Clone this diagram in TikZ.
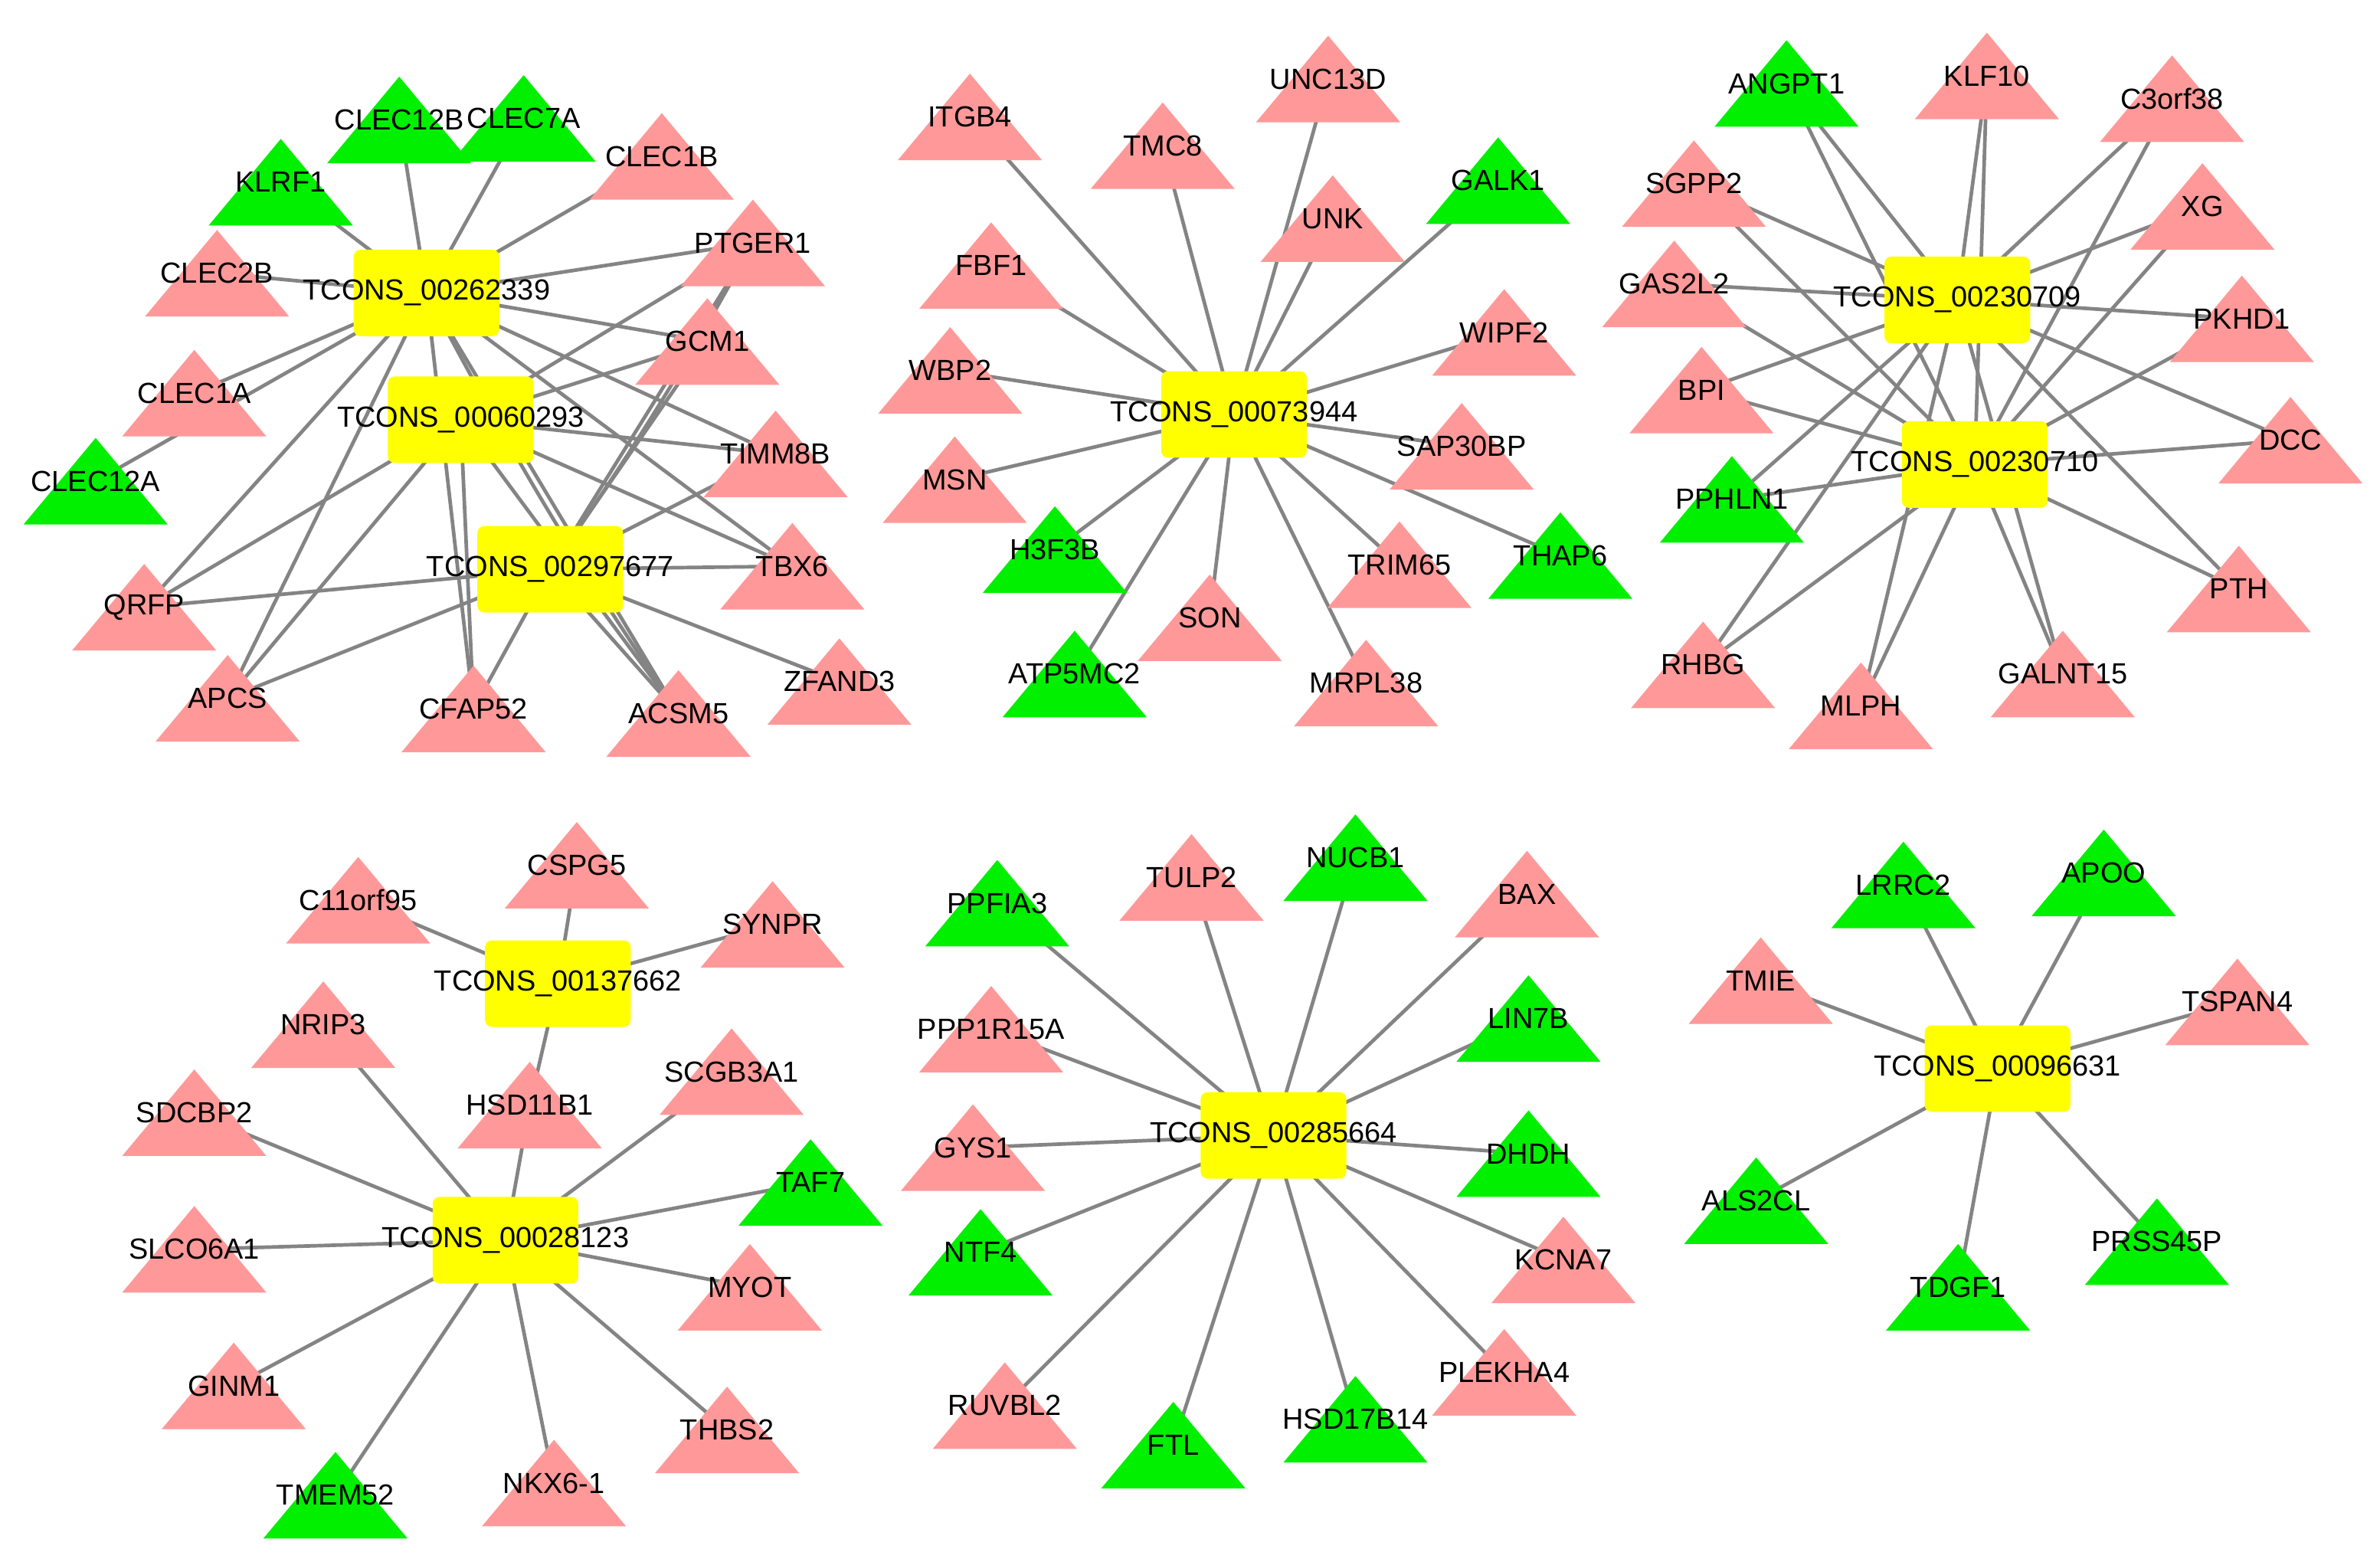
\documentclass[tikz,border=0pt]{standalone}
\usepackage{fontspec}
\setmainfont{Liberation Sans}
\definecolor{pinkc}{RGB}{255,153,153}
\definecolor{greenc}{RGB}{0,240,0}
\definecolor{hubc}{RGB}{255,255,0}
\definecolor{edgec}{RGB}{132,132,132}
\newcommand{\zb}[1]{\makebox[0pt]{#1}}
\pgfdeclarelayer{bgl}
\pgfdeclarelayer{edges}
\pgfsetlayers{bgl,edges,main}
\tikzset{
  tri/.style={rectangle, inner sep=0pt, minimum width=1.9cm, minimum height=1.14cm,
    path picture={\fill[#1] (path picture bounding box.south west) -- (path picture bounding box.south east) -- (path picture bounding box.north) -- cycle;}},
  pk/.style={tri=pinkc},
  gr/.style={tri=greenc},
  hub/.style={rectangle, rounded corners=0.09cm, fill=hubc, inner sep=0pt, minimum width=1.92cm, minimum height=1.14cm},
  lnk/.style={draw=edgec, line width=1.35pt}
}
\begin{document}
\begin{tikzpicture}[x=0.02cm,y=-0.02cm,font=\fontsize{10.9}{13}\selectfont]
\begin{pgfonlayer}{bgl}
\fill[white] (0,0) rectangle (1568,1029);
\end{pgfonlayer}
\useasboundingbox (0,0) rectangle (1568,1029);

% ---------- top-left cluster ----------
\node[gr] (KLRF1) at (185,120) {\zb{KLRF1}};
\node[gr] (CLEC12B) at (263,79) {\zb{CLEC12B}};
\node[gr] (CLEC7A) at (345,78) {\zb{CLEC7A}};
\node[pk] (CLEC1B) at (436,103) {\zb{CLEC1B}};
\node[pk] (CLEC2B) at (143,180) {\zb{CLEC2B}};
\node[pk] (PTGER1) at (496,160) {\zb{PTGER1}};
\node[pk] (GCM1) at (466,225) {\zb{GCM1}};
\node[pk] (CLEC1A) at (128,259) {\zb{CLEC1A}};
\node[pk] (TIMM8B) at (511,299) {\zb{TIMM8B}};
\node[gr] (CLEC12A) at (63,317) {\zb{CLEC12A}};
\node[pk] (TBX6) at (522,373) {\zb{TBX6}};
\node[pk] (QRFP) at (95,400) {\zb{QRFP}};
\node[pk] (APCS) at (150,460) {\zb{APCS}};
\node[pk] (CFAP52) at (312,467) {\zb{CFAP52}};
\node[pk] (ACSM5) at (447,470) {\zb{ACSM5}};
\node[pk] (ZFAND3) at (553,449) {\zb{ZFAND3}};

% ---------- top-middle cluster ----------
\node[pk] (ITGB4) at (639,77) {\zb{ITGB4}};
\node[pk] (TMC8) at (766,96) {\zb{TMC8}};
\node[pk] (UNC13D) at (875,52) {\zb{UNC13D}};
\node[pk] (UNK) at (878,144) {\zb{UNK}};
\node[gr] (GALK1) at (987,119) {\zb{GALK1}};
\node[pk] (FBF1) at (653,175) {\zb{FBF1}};
\node[pk] (WIPF2) at (991,219) {\zb{WIPF2}};
\node[pk] (WBP2) at (626,244) {\zb{WBP2}};
\node[pk] (SAP30BP) at (963,294) {\zb{SAP30BP}};
\node[pk] (MSN) at (629,316) {\zb{MSN}};
\node[gr] (H3F3B) at (695,362) {\zb{H3F3B}};
\node[pk] (TRIM65) at (922,372) {\zb{TRIM65}};
\node[gr] (THAP6) at (1028,366) {\zb{THAP6}};
\node[pk] (SON) at (797,407) {\zb{SON}};
\node[gr] (ATP5MC2) at (708,444) {\zb{ATP5MC2}};
\node[pk] (MRPL38) at (900,450) {\zb{MRPL38}};

% ---------- top-right cluster ----------
\node[gr] (ANGPT1) at (1177,55) {\zb{ANGPT1}};
\node[pk] (KLF10) at (1309,50) {\zb{KLF10}};
\node[pk] (C3orf38) at (1431,65) {\zb{C3orf38}};
\node[pk] (SGPP2) at (1116,121) {\zb{SGPP2}};
\node[pk] (XG) at (1451,136) {\zb{XG}};
\node[pk] (GAS2L2) at (1103,187) {\zb{GAS2L2}};
\node[pk] (PKHD1) at (1477,210) {\zb{PKHD1}};
\node[pk] (BPI) at (1121,257) {\zb{BPI}};
\node[pk] (DCC) at (1509,290) {\zb{DCC}};
\node[gr] (PPHLN1) at (1141,329) {\zb{PPHLN1}};
\node[pk] (PTH) at (1475,388) {\zb{PTH}};
\node[pk] (RHBG) at (1122,438) {\zb{RHBG}};
\node[pk] (GALNT15) at (1359,444) {\zb{GALNT15}};
\node[pk] (MLPH) at (1226,465) {\zb{MLPH}};

% ---------- bottom-left cluster ----------
\node[pk] (CSPG5) at (380,570) {\zb{CSPG5}};
\node[pk] (C11orf95) at (236,593) {\zb{C11orf95}};
\node[pk] (SYNPR) at (509,609) {\zb{SYNPR}};
\node[pk] (NRIP3) at (213,675) {\zb{NRIP3}};
\node[pk] (SCGB3A1) at (482,706) {\zb{SCGB3A1}};
\node[pk] (SDCBP2) at (128,733) {\zb{SDCBP2}};
\node[pk] (HSD11B1) at (349,728) {\zb{HSD11B1}};
\node[gr] (TAF7) at (534,779) {\zb{TAF7}};
\node[pk] (SLCO6A1) at (128,823) {\zb{SLCO6A1}};
\node[pk] (MYOT) at (494,848) {\zb{MYOT}};
\node[pk] (GINM1) at (154,913) {\zb{GINM1}};
\node[pk] (THBS2) at (479,942) {\zb{THBS2}};
\node[gr] (TMEM52) at (221,985) {\zb{TMEM52}};
\node[pk] (NKX) at (365,977) {\zb{NKX6-1}};

% ---------- bottom-middle cluster ----------
\node[gr] (PPFIA3) at (657,595) {\zb{PPFIA3}};
\node[pk] (TULP2) at (785,578) {\zb{TULP2}};
\node[gr] (NUCB1) at (893,565) {\zb{NUCB1}};
\node[pk] (BAX) at (1006,589) {\zb{BAX}};
\node[gr] (LIN7B) at (1007,671) {\zb{LIN7B}};
\node[pk] (PPP1R15A) at (653,678) {\zb{PPP1R15A}};
\node[pk] (GYS1) at (641,756) {\zb{GYS1}};
\node[gr] (DHDH) at (1007,760) {\zb{DHDH}};
\node[gr] (NTF4) at (646,825) {\zb{NTF4}};
\node[pk] (KCNA7) at (1030,830) {\zb{KCNA7}};
\node[pk] (PLEKHA4) at (991,904) {\zb{PLEKHA4}};
\node[pk] (RUVBL2) at (662,926) {\zb{RUVBL2}};
\node[gr] (HSD17B14) at (893,935) {\zb{HSD17B14}};
\node[gr] (FTL) at (773,952) {\zb{FTL}};

% ---------- bottom-right cluster ----------
\node[gr] (LRRC2) at (1254,583) {\zb{LRRC2}};
\node[gr] (APOO) at (1386,575) {\zb{APOO}};
\node[pk] (TMIE) at (1160,646) {\zb{TMIE}};
\node[pk] (TSPAN4) at (1474,660) {\zb{TSPAN4}};
\node[gr] (ALS2CL) at (1157,791) {\zb{ALS2CL}};
\node[gr] (PRSS45P) at (1421,818) {\zb{PRSS45P}};
\node[gr] (TDGF1) at (1290,848) {\zb{TDGF1}};

% ---------- hubs ----------
\node[hub] (A) at (281,193) {\zb{TCONS\_00262339}};
\node[hub] (B) at (303.5,276.5) {\zb{TCONS\_00060293}};
\node[hub] (C) at (362.5,375) {\zb{TCONS\_00297677}};
\node[hub] (T2) at (813,273) {\zb{TCONS\_00073944}};
\node[hub] (D) at (1289.5,197.5) {\zb{TCONS\_00230709}};
\node[hub] (E) at (1301,306) {\zb{TCONS\_00230710}};
\node[hub] (F) at (367.5,648) {\zb{TCONS\_00137662}};
\node[hub] (G) at (333,817) {\zb{TCONS\_00028123}};
\node[hub] (H) at (839,748) {\zb{TCONS\_00285664}};
\node[hub] (I) at (1316,704) {\zb{TCONS\_00096631}};

% ---------- edges ----------
\begin{pgfonlayer}{edges}
\foreach \t in {KLRF1,CLEC12B,CLEC7A,CLEC1B,PTGER1,GCM1,TIMM8B,TBX6,CLEC2B,CLEC1A,CLEC12A,QRFP,APCS,CFAP52,ACSM5}
  \draw[lnk] (A.center) -- (\t.center);
\draw[lnk] (A.center) to[bend right=3] (ACSM5.center);
\foreach \t in {PTGER1,GCM1,TIMM8B,TBX6,QRFP,APCS,CFAP52,ACSM5}
  \draw[lnk] (B.center) -- (\t.center);
\foreach \t in {PTGER1,GCM1,TIMM8B,TBX6,ZFAND3,QRFP,APCS,CFAP52,ACSM5}
  \draw[lnk] (C.center) -- (\t.center);
\draw[lnk] (PTGER1.center) to[bend left=3] (C.center);
\foreach \t in {ITGB4,TMC8,UNC13D,UNK,GALK1,FBF1,WIPF2,WBP2,SAP30BP,MSN,H3F3B,TRIM65,THAP6,SON,ATP5MC2,MRPL38}
  \draw[lnk] (T2.center) -- (\t.center);
\foreach \t in {ANGPT1,KLF10,C3orf38,SGPP2,XG,GAS2L2,PKHD1,BPI,DCC,PPHLN1,PTH,RHBG,GALNT15,MLPH}
  {\draw[lnk] (D.center) -- (\t.center);
   \draw[lnk] (E.center) -- (\t.center);}
\foreach \t in {C11orf95,CSPG5,SYNPR,HSD11B1}
  \draw[lnk] (F.center) -- (\t.center);
\foreach \t in {HSD11B1,NRIP3,SDCBP2,SLCO6A1,GINM1,TMEM52,NKX,THBS2,MYOT,TAF7,SCGB3A1}
  \draw[lnk] (G.center) -- (\t.center);
\foreach \t in {PPFIA3,TULP2,NUCB1,BAX,LIN7B,PPP1R15A,GYS1,DHDH,NTF4,KCNA7,PLEKHA4,RUVBL2,HSD17B14,FTL}
  \draw[lnk] (H.center) -- (\t.center);
\foreach \t in {LRRC2,APOO,TMIE,TSPAN4,ALS2CL,PRSS45P,TDGF1}
  \draw[lnk] (I.center) -- (\t.center);
\end{pgfonlayer}
\end{tikzpicture}
\end{document}
